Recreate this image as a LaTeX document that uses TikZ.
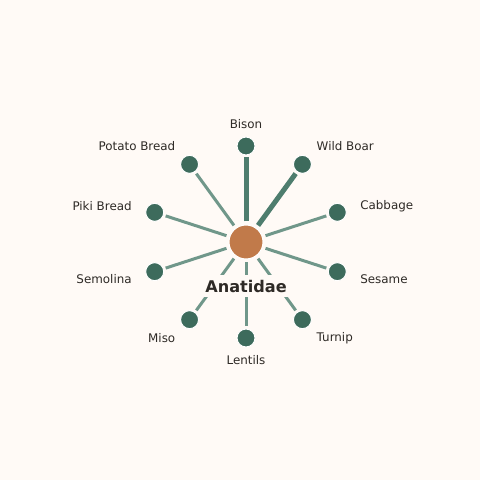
\documentclass[tikz,border=0pt]{standalone}
\usepackage{fontspec}
\setmainfont{DejaVu Sans}
\usetikzlibrary{calc}
\definecolor{bgc}{HTML}{FFFAF6}
\definecolor{nodec}{HTML}{3D6B5C}
\definecolor{hubc}{HTML}{C17A4A}
\definecolor{edgedark}{HTML}{4E7D6E}
\definecolor{edgelight}{HTML}{70978A}
\definecolor{txtc}{HTML}{2E2A26}
\begin{document}
\begin{tikzpicture}[x=1pt,y=1pt,
  leaf/.style={circle,fill=nodec,draw=white,line width=1pt,minimum size=18pt,inner sep=0pt},
  hub/.style={circle,fill=hubc,draw=white,line width=1pt,minimum size=34pt,inner sep=0pt},
  lbl/.style={font=\fontsize{11.9}{14}\selectfont,text=txtc,inner sep=0pt},
  strong/.style={draw=edgedark,line width=5pt,shorten <=3pt,shorten >=2pt},
  weak/.style={draw=edgelight,line width=3pt,shorten <=3pt,shorten >=2pt},
  title/.style={font=\fontsize{16.1}{19}\selectfont\bfseries,text=txtc,fill=bgc,inner xsep=4pt,inner ysep=5pt}]
\fill[bgc] (0,0) rectangle (480,480);
\useasboundingbox (0,0) rectangle (480,480);
\coordinate (C) at (246,238);
\node[hub] (hub) at (C) {};
\node[leaf] (n1) at ($(C)+(90:96)$) {};
\node[leaf] (n2) at ($(C)+(54:96)$) {};
\node[leaf] (n3) at ($(C)+(18:96)$) {};
\node[leaf] (n4) at ($(C)+(-18:96)$) {};
\node[leaf] (n5) at ($(C)+(-54:96)$) {};
\node[leaf] (n6) at ($(C)+(-90:96)$) {};
\node[leaf] (n7) at ($(C)+(-126:96)$) {};
\node[leaf] (n8) at ($(C)+(-162:96)$) {};
\node[leaf] (n9) at ($(C)+(162:96)$) {};
\node[leaf] (n10) at ($(C)+(126:96)$) {};
\path[strong] (hub) -- (n1);
\path[strong] (hub) -- (n2);
\path[weak] (hub) -- (n3);
\path[weak] (hub) -- (n4);
\path[weak] (hub) -- (n5);
\path[weak] (hub) -- (n6);
\path[weak] (hub) -- (n7);
\path[weak] (hub) -- (n8);
\path[weak] (hub) -- (n9);
\path[weak] (hub) -- (n10);
\node[title] (t) at (246,194) {Anatidae};
\node[lbl,anchor=center] (l1) at ($(C)+(90:118)$) {Bison};
\node[lbl,anchor=west] (l2) at ($(C)+(54:120)+(0,-1.5)$) {Wild Boar};
\node[lbl,anchor=west] (l3) at ($(C)+(18:120)+(0,-1.5)$) {Cabbage};
\node[lbl,anchor=west] (l4) at ($(C)+(-18:120)$) {Sesame};
\node[lbl,anchor=west] (l5) at ($(C)+(-54:120)+(0,1)$) {Turnip};
\node[lbl,anchor=center] (l6) at ($(C)+(-90:118)$) {Lentils};
\node[lbl,anchor=east] (l7) at ($(C)+(-126:120)+(0,1)$) {Miso};
\node[lbl,anchor=east] (l8) at ($(C)+(-162:120)$) {Semolina};
\node[lbl,anchor=east] (l9) at ($(C)+(162:120)+(0,-1)$) {Piki Bread};
\node[lbl,anchor=east] (l10) at ($(C)+(126:120)+(0,-1.5)$) {Potato Bread};
\end{tikzpicture}
\end{document}
